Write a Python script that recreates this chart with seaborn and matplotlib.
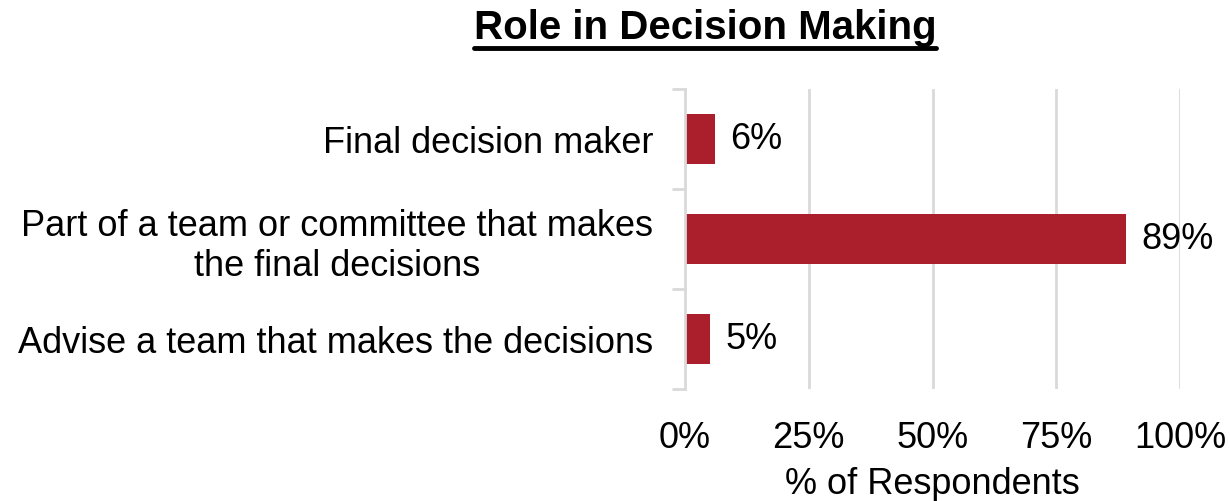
import matplotlib
matplotlib.use("Agg")
import matplotlib.pyplot as plt
import seaborn as sns
import pandas as pd
from matplotlib.lines import Line2D

roles = ["Final decision maker",
         "Part of a team or committee that makes\nthe final decisions",
         "Advise a team that makes the decisions"]
pct = [6, 89, 5]
x_ticks = [0, 25, 50, 75, 100]

sns.set_theme(style="white")
plt.rcParams['font.family'] = ['Liberation Sans', 'DejaVu Sans']
plt.rcParams['text.color'] = 'black'
plt.rcParams['xtick.color'] = 'black'
plt.rcParams['ytick.color'] = 'black'
plt.rcParams['axes.labelcolor'] = 'black'

df = pd.DataFrame({"role": roles, "pct": pct})

fig = plt.figure(figsize=(12.3, 5.02), dpi=100)
ax = fig.add_axes([685/1230, 1 - 390/502, (1180 - 685)/1230, 300/502])

sns.barplot(data=df, x="pct", y="role", color="#AB1F2D", width=0.5,
            saturation=1, ax=ax, zorder=3, linewidth=0)

ax.set_xlim(0, 100)
ax.set_ylim(2.5, -0.5)
ax.set_xticks(x_ticks)
ax.set_xticklabels([f"{t}%" for t in x_ticks], fontsize=26)
ax.tick_params(axis="x", length=0, pad=22)
ax.set_yticks([0, 1, 2])
ax.set_yticklabels(roles, fontsize=26, multialignment="center")
ax.tick_params(axis="y", length=0, pad=23)
# small tick marks between categories
for yb in [-0.5, 0.5, 1.5, 2.5]:
    ax.plot([-0.025, 0], [yb, yb], transform=ax.get_yaxis_transform(),
            color="#d9d9d9", lw=2, clip_on=False, zorder=4)

for t in x_ticks[1:]:
    ax.axvline(t, color="#d9d9d9", lw=2, zorder=1)

for s in ["top", "right", "bottom"]:
    ax.spines[s].set_visible(False)
ax.spines["left"].set_color("#d9d9d9")
ax.spines["left"].set_linewidth(2)
ax.spines["left"].set_zorder(5)

for i, v in enumerate(pct):
    ax.text(v + 3.2, i, f"{v}%", va="center", ha="left", fontsize=26)

ax.set_xlabel("% of Respondents", fontsize=26, labelpad=8)
ax.set_ylabel("")

title = fig.text(705/1230, 1 - 28/502, "Role in Decision Making", ha="center",
                 va="center", fontsize=29, fontweight="bold")
fig.canvas.draw()
bb = title.get_window_extent().transformed(fig.transFigure.inverted())
fig.add_artist(Line2D([bb.x0, bb.x1], [bb.y0 - 0.004, bb.y0 - 0.004],
                      transform=fig.transFigure, color="black", lw=3.5))

fig.savefig("out.png", dpi=100)
